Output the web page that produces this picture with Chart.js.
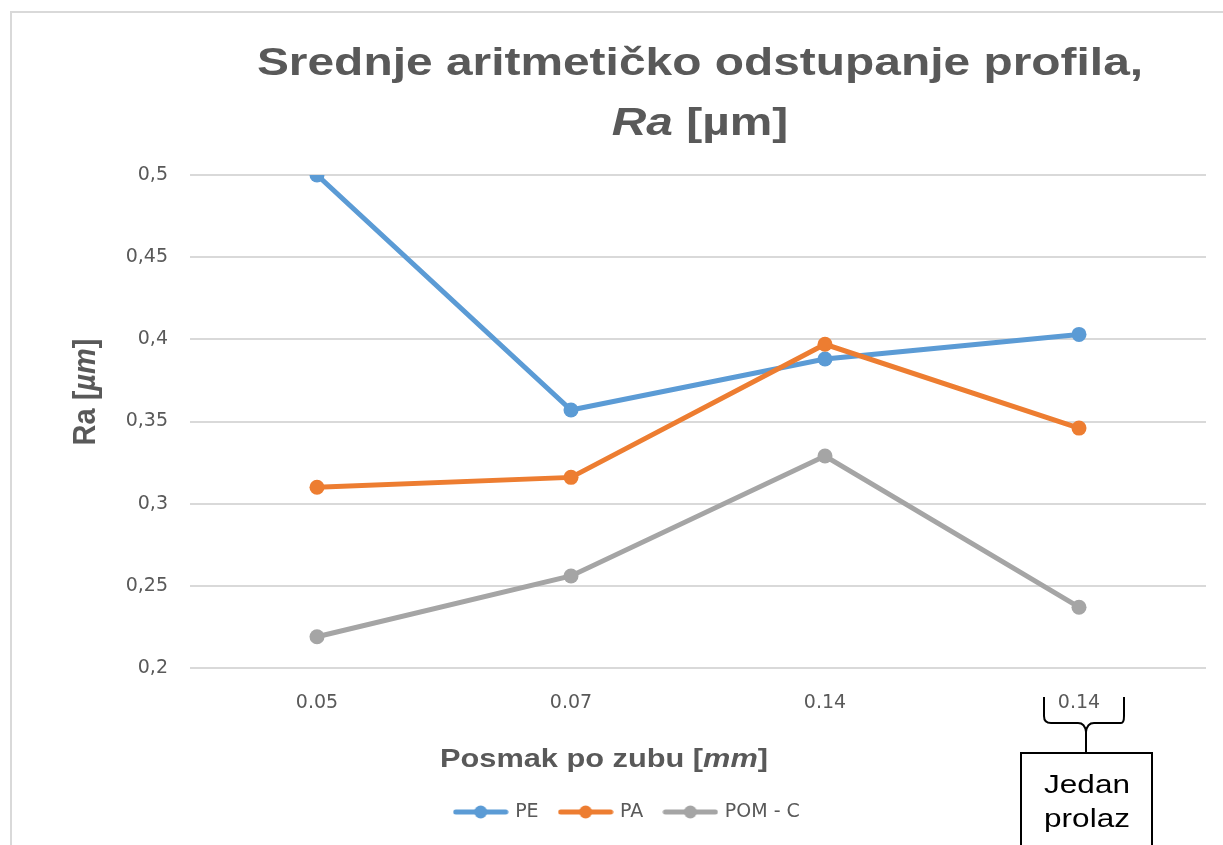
<!DOCTYPE html>
<html>
<head>
<meta charset="utf-8">
<script src="https://cdn.jsdelivr.net/npm/chart.js@4.4.1/dist/chart.umd.min.js"></script>
<style>
html, body { margin: 0; padding: 0; background: #fff; }
#wrap { width: 1223px; height: 845px; position: relative; overflow: hidden; }
</style>
</head>
<body>
<div id="wrap"><canvas id="chart" width="1223" height="845"></canvas></div>
<script>
// data
const categories = ['0.05', '0.07', '0.14', '0.14'];
const pe = [0.5, 0.357, 0.388, 0.403];
const pa = [0.31, 0.316, 0.397, 0.346];
const pomC = [0.219, 0.256, 0.329, 0.237];
const seriesNames = ['PE', 'PA', 'POM - C'];
const seriesColors = ['#5b9bd5', '#ed7d31', '#a5a5a5'];
const yMin = 0.2, yMax = 0.5, yStep = 0.05;

// texts (parts so that some words can be italic)
const titleLine1 = [{t: 'Srednje aritmetičko odstupanje profila,'}];
const titleLine2 = [{t: 'Ra', i: true}, {t: ' [µm]'}];
const xTitle = [{t: 'Posmak po zubu ['}, {t: 'mm', i: true}, {t: ']'}];
const yTitle = [{t: 'Ra ['}, {t: 'µm', i: true}, {t: ']'}];
const noteLines = ['Jedan', 'prolaz'];

const GREY = '#595959';

function drawRich(ctx, parts, x, y, size, sx, rot, color, bold) {
    ctx.save();
    ctx.fillStyle = color;
    ctx.textBaseline = 'alphabetic';
    ctx.textAlign = 'left';
    const fonts = parts.map(p => `${p.i ? 'italic ' : ''}${bold ? 'bold ' : ''}${size}px "Liberation Sans", Arial, sans-serif`);
    const widths = parts.map((p, k) => { ctx.font = fonts[k]; return ctx.measureText(p.t).width; });
    const total = widths.reduce((a, b) => a + b, 0);
    ctx.translate(x, y);
    ctx.scale(sx, 1);
    if (rot) ctx.rotate(rot);
    let cx = -total / 2;
    parts.forEach((p, k) => {
        ctx.font = fonts[k];
        ctx.fillText(p.t, cx, 0);
        cx += widths[k];
    });
    ctx.restore();
}

function legendSwatch(color) {
    const c = document.createElement('canvas');
    c.width = 56;
    c.height = 16;
    const g = c.getContext('2d');
    g.strokeStyle = color;
    g.lineWidth = 5;
    g.lineCap = 'round';
    g.beginPath();
    g.moveTo(3, 8);
    g.lineTo(53, 8);
    g.stroke();
    g.fillStyle = color;
    g.beginPath();
    g.arc(28, 8, 6.5, 0, Math.PI * 2);
    g.fill();
    return c;
}

const decorations = {
    id: 'decorations',
    beforeDraw(chart) {
        const ctx = chart.ctx;
        ctx.save();
        ctx.strokeStyle = '#d9d9d9';
        ctx.lineWidth = 2;
        ctx.beginPath();
        ctx.moveTo(11, 850);
        ctx.lineTo(11, 12);
        ctx.lineTo(1230, 12);
        ctx.stroke();
        ctx.restore();
    },
    afterDraw(chart) {
        const ctx = chart.ctx;
        drawRich(ctx, titleLine1, 700, 75, 39, 1.228, 0, GREY, true);
        drawRich(ctx, titleLine2, 700, 135, 39, 1.228, 0, GREY, true);
        drawRich(ctx, xTitle, 604, 767, 25, 1.23, 0, GREY, true);
        drawRich(ctx, yTitle, 95, 392, 29, 1.1, -Math.PI / 2, GREY, true);

        // brace + box under the last category
        const cx = chart.scales.x.getPixelForValue(3) + 7;
        ctx.save();
        ctx.strokeStyle = '#000';
        ctx.lineWidth = 2;
        ctx.beginPath();
        ctx.moveTo(cx - 42, 697);
        ctx.lineTo(cx - 42, 716);
        ctx.quadraticCurveTo(cx - 42, 723, cx - 35, 723);
        ctx.lineTo(cx - 8, 723);
        ctx.quadraticCurveTo(cx - 1, 723, cx, 732);
        ctx.lineTo(cx, 752);
        ctx.moveTo(cx, 732);
        ctx.quadraticCurveTo(cx + 1, 723, cx + 8, 723);
        ctx.lineTo(cx + 35, 723);
        ctx.quadraticCurveTo(cx + 38, 723, cx + 38, 716);
        ctx.lineTo(cx + 38, 697);
        ctx.stroke();
        ctx.strokeRect(cx - 65, 753, 131, 120);
        ctx.restore();
        drawRich(ctx, [{t: noteLines[0]}], cx + 1, 793, 25, 1.26, 0, '#000', false);
        drawRich(ctx, [{t: noteLines[1]}], cx + 1, 827, 25, 1.26, 0, '#000', false);
    }
};

Chart.defaults.font.family = '"DejaVu Sans", sans-serif';
Chart.defaults.color = GREY;

const seriesData = [pe, pa, pomC];
const datasets = seriesData.map((d, i) => ({
    label: seriesNames[i],
    data: d,
    borderColor: seriesColors[i],
    backgroundColor: seriesColors[i],
    borderWidth: 5,
    pointRadius: 7.5,
    pointBorderWidth: 0,
    pointHoverRadius: 7.5,
    tension: 0,
    order: 3 - i
}));

new Chart(document.getElementById('chart'), {
    type: 'line',
    data: { labels: categories, datasets },
    options: {
        responsive: false,
        animation: false,
        devicePixelRatio: 1,
        layout: { padding: { top: 175, left: 49.5, right: 17, bottom: 13.5 } },
        plugins: {
            title: { display: false },
            tooltip: { enabled: false },
            legend: {
                position: 'bottom',
                labels: {
                    usePointStyle: true,
                    pointStyleWidth: 50,
                    padding: 22,
                    font: { size: 19 },
                    color: GREY,
                    generateLabels: (chart) => chart.data.datasets.map((ds, i) => ({
                        text: ds.label,
                        pointStyle: legendSwatch(ds.borderColor),
                        fillStyle: ds.borderColor,
                        strokeStyle: ds.borderColor,
                        fontColor: GREY,
                        lineWidth: 0,
                        hidden: false,
                        datasetIndex: i
                    }))
                }
            }
        },
        scales: {
            x: {
                offset: true,
                grid: { display: false },
                border: { display: false },
                ticks: { font: { size: 19 }, color: GREY, padding: 16 },
                afterFit: (s) => { s.height = 112.5; }
            },
            y: {
                min: yMin,
                max: yMax,
                grid: { color: '#d9d9d9', lineWidth: 2, drawTicks: false },
                border: { display: false },
                ticks: {
                    stepSize: yStep,
                    padding: 22,
                    font: { size: 19 },
                    color: GREY,
                    callback: (v) => String(Math.round(v * 100) / 100).replace('.', ',')
                },
                afterFit: (s) => { s.width = 140.5; }
            }
        }
    },
    plugins: [decorations]
});
</script>
</body>
</html>
